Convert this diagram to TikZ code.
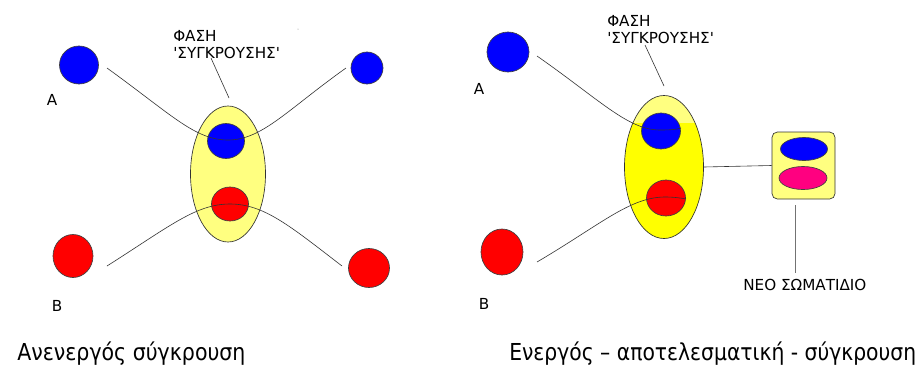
\documentclass[tikz,border=0pt]{standalone}
\usepackage{fontspec}
\usepackage{graphicx}
\setmainfont{DejaVu Sans}[FakeStretch=0.88]
\newfontfamily\labfont{DejaVu Sans}
\usetikzlibrary{shapes.geometric}
\definecolor{pblue}{RGB}{0,0,255}
\definecolor{pred}{RGB}{255,0,0}
\definecolor{pyel}{RGB}{255,255,128}
\definecolor{fyel}{RGB}{255,255,0}
\definecolor{ppink}{RGB}{255,0,128}
\begin{document}
\begin{tikzpicture}[x=0.75pt,y=-0.75pt,
  ball/.style={ellipse,draw=black!75,line width=0.5pt,inner sep=0pt},
  blueball/.style={ball,fill=pblue},
  redball/.style={ball,fill=pred},
  zone/.style={ellipse,draw=black!80,line width=0.5pt,inner sep=0pt},
  traj/.style={draw=black!80,line width=0.45pt},
  lab/.style={font=\labfont\fontsize{11.4}{13}\selectfont,inner sep=0pt},
  caption/.style={font=\fontsize{17.5}{21}\selectfont,inner sep=0pt,anchor=base west}]
\useasboundingbox[fill=white] (0,0) rectangle (918,365);

% ---------- left panel ----------
\node[zone,fill=pyel,minimum width=56.25pt,minimum height=102pt] (EL) at (228,174) {};
\node[blueball,minimum width=29.25pt,minimum height=28.5pt] (LA) at (79,65) {};
\node[blueball,minimum width=24pt,minimum height=24pt] (LA2) at (367,68) {};
\node[blueball,minimum width=27.75pt,minimum height=26.25pt] (LAc) at (226,141) {};
\node[redball,minimum width=27.75pt,minimum height=25.5pt] (LBc) at (230,204) {};
\node[redball,minimum width=30pt,minimum height=32.25pt] (LB) at (73,256) {};
\node[redball,minimum width=30.75pt,minimum height=29.25pt] (LB2) at (369,268) {};
\node[lab] (LtA) at (52,100) {A};
\node[lab] (LtB) at (57,306) {B};
\coordinate (la1) at (107,68);
\coordinate (la2) at (346,68);
\coordinate (lb1) at (107,266);
\coordinate (lb2) at (342,266);
\draw[traj] (la1) .. controls (172,115) and (195,140) .. (228,140) .. controls (262,140) and (287,110) .. (la2);
\draw[traj] (lb1) .. controls (170,226) and (196,204) .. (230,204) .. controls (264,204) and (290,226) .. (lb2);
\node[lab,anchor=north west,align=left] (LF) at (173,30) {ΦΑΣΗ\\\textquotesingle ΣΥΓΚΡΟΥΣΗΣ\textquotesingle};
\coordinate (lp1) at (211,58);
\coordinate (lp2) at (229,98);
\draw[traj] (lp1) -- (lp2);
\fill[black!45] (298,29) circle[radius=0.5];
\node[caption] (C1) at (17,360) {Ανενεργός σύγκρουση};

% ---------- right panel ----------
\node[zone,fill=pyel,minimum width=59.25pt,minimum height=107.25pt,
  path picture={\fill[fyel] ([yshift=-20.6pt]path picture bounding box.north west) rectangle (path picture bounding box.south east);}] (ER) at (664,167) {};
\node[blueball,minimum width=31.5pt,minimum height=30pt] (RA) at (508,52) {};
\node[redball,minimum width=31.5pt,minimum height=34.5pt] (RB) at (502,252) {};
\node[blueball,minimum width=29.25pt,minimum height=27pt] (RAc) at (661,131) {};
\node[redball,minimum width=29.25pt,minimum height=27pt] (RBc) at (666,198) {};
\node[lab] (RtA) at (479,89) {A};
\node[lab] (RtB) at (484,304) {B};
\coordinate (ra1) at (537,56);
\coordinate (ra2) at (681,128);
\coordinate (rb1) at (537,262);
\coordinate (rb2) at (686,199);
\draw[traj] (ra1) .. controls (600,100) and (628,130) .. (660,130) .. controls (670,130) and (677,129.5) .. (ra2);
\draw[traj] (rb1) .. controls (600,225) and (630,197) .. (665,197) .. controls (674,197) and (681,198) .. (rb2);
\node[lab,anchor=north west,align=left] (RF) at (607,15) {ΦΑΣΗ\\\textquotesingle ΣΥΓΚΡΟΥΣΗΣ\textquotesingle};
\coordinate (rp1) at (645,45);
\coordinate (rp2) at (664,86);
\draw[traj] (rp1) -- (rp2);
\node[draw=black!80,line width=0.5pt,fill=pyel,rounded corners=4pt,minimum width=47.25pt,minimum height=50.25pt,inner sep=0pt] (NP) at (803.5,165.5) {};
\node[ball,fill=pblue,minimum width=35.25pt,minimum height=17.25pt] (NPa) at (804,149) {};
\node[ball,fill=ppink,minimum width=36pt,minimum height=17.25pt] (NPb) at (803,178) {};
\draw[traj] (ER.east) -- (NP.west);
\node[lab,anchor=base west] (NL) at (743,290) {ΝΕΟ ΣΩΜΑΤΙΔΙΟ};
\coordinate (nl1) at (795,205);
\coordinate (nl2) at (795,273);
\draw[draw=black!55,line width=0.6pt] (nl1) -- (nl2);
\node[caption] (C2) at (509,360) {\scalebox{0.99}[1]{Ενεργός – αποτελεσματική - σύγκρουση}};
\end{tikzpicture}
\end{document}
